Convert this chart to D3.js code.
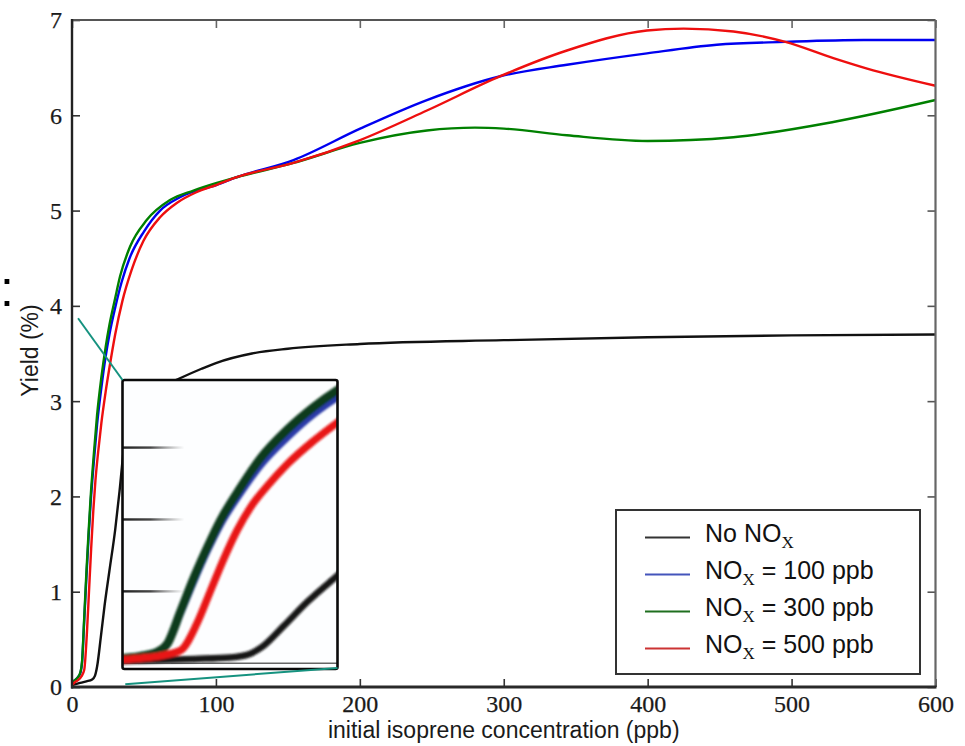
<!DOCTYPE html>
<html>
<head>
<meta charset="utf-8">
<script src="https://cdn.jsdelivr.net/npm/d3@7"></script>
<style>
  html, body { margin: 0; padding: 0; background: #fff; }
  svg { display: block; }
</style>
</head>
<body>
<svg id="chart" width="965" height="746"></svg>
<script>
// ---- data: SOA yield (%) vs initial isoprene (ppb) ----
const xTicks = [0, 100, 200, 300, 400, 500, 600];
const yTicks = [0, 1, 2, 3, 4, 5, 6, 7];
const insetYTicks = [1, 2, 3];

const noNox = [[0,0.02],[5,0.04],[10,0.06],[14,0.08],[16,0.12],[17.5,0.22],[20,0.52],[22.6,0.85],[26,1.22],[30,1.65],[33,2.05],[36,2.5],[40,2.8],[45,2.95],[50,3.03],[60,3.13],[75,3.24],[90,3.34],[100,3.40],[125,3.50],[150,3.55],[200,3.60],[300,3.64],[400,3.67],[500,3.69],[600,3.70]];
const nox100 = [[0,0.03],[2,0.07],[4,0.1],[5.9,0.15],[7,0.26],[8.5,0.7],[10,1.15],[11.5,1.57],[12.9,1.92],[15.2,2.37],[17.4,2.75],[20.4,3.14],[23.4,3.47],[26,3.7],[30,3.98],[34.5,4.25],[40,4.5],[50,4.78],[61.2,5.0],[75,5.14],[100.6,5.27],[114.5,5.35],[153.9,5.53],[200.2,5.86],[246.6,6.16],[297.6,6.41],[343.9,6.53],[399.5,6.65],[448,6.74],[495.7,6.77],[550,6.79],[600,6.79]];
const nox300 = [[0,0.03],[2,0.07],[4,0.1],[5.9,0.16],[7,0.27],[8.5,0.73],[10,1.2],[11.5,1.62],[12.9,1.98],[15.2,2.45],[17.4,2.85],[20.4,3.25],[23.4,3.57],[26,3.8],[30,4.08],[33.4,4.31],[40.3,4.62],[51.9,4.9],[68.1,5.11],[84.4,5.21],[100.6,5.29],[114.5,5.35],[153.9,5.5],[200,5.71],[246.6,5.84],[280,5.87],[300,5.86],[343.9,5.79],[400,5.73],[459.6,5.77],[529,5.93],[600,6.16]];
const nox500 = [[0,0.02],[2,0.05],[4,0.07],[6.5,0.11],[8.5,0.18],[10.3,0.55],[11.8,1.0],[13.3,1.45],[14.8,1.85],[16.3,2.17],[18.2,2.47],[20.4,2.77],[23.4,3.1],[26,3.35],[30,3.7],[35,4.05],[41.5,4.38],[49.6,4.68],[61.2,4.93],[72.8,5.08],[86,5.19],[100.6,5.27],[114.5,5.35],[153.9,5.5],[200.2,5.74],[246.6,6.05],[297.6,6.41],[343.9,6.68],[399.5,6.89],[425,6.91],[459.6,6.88],[495.7,6.77],[529,6.6],[552.5,6.49],[600,6.31]];

const seriesData = [noNox, nox100, nox300, nox500];
const legendPre  = ["No NO", "NO", "NO", "NO"];
const legendSub  = ["X", "X", "X", "X"];
const legendPost = ["", " = 100 ppb", " = 300 ppb", " = 500 ppb"];

// magnified window (data coordinates) and the two points it is linked from
const insetXDomain = [2, 26];
const insetYDomain = [-0.08, 3.94];
const zoomLinkFrom = [[4.2, 3.87], [37, 0.03]];

const xLabel = "initial isoprene concentration (ppb)";
const yLabel = "Yield (%)";

// ---- layout & style ----
const plot = { left: 72, right: 935.5, top: 20, bottom: 687 };
const insetBox = { left: 122.5, right: 337.5, top: 380, bottom: 669 };
const colors = ["#111111", "#0000f0", "#008000", "#ee0f0f"];
const insetColors = ["#141414", "#2a3aa8", "#0b3a1f", "#e81616"];
const insetWidths = [6.5, 7, 8.5, 7.5];
const legendColors = ["#333333", "#4455bb", "#1f6f1f", "#cc3333"];

const svg = d3.select("#chart");

const x = d3.scaleLinear().domain([0, 600]).range([plot.left, plot.right]);
const y = d3.scaleLinear().domain([0, 7]).range([plot.bottom, plot.top]);

const defs = svg.append("defs");
defs.append("clipPath").attr("id", "plotClip")
  .append("rect").attr("x", plot.left).attr("y", plot.top)
  .attr("width", plot.right - plot.left).attr("height", plot.bottom - plot.top);
defs.append("clipPath").attr("id", "insetClip")
  .append("rect").attr("x", insetBox.left).attr("y", insetBox.top)
  .attr("width", insetBox.right - insetBox.left).attr("height", insetBox.bottom - insetBox.top);
defs.append("filter").attr("id", "soft").attr("x", "-10%").attr("y", "-10%")
  .attr("width", "120%").attr("height", "120%")
  .append("feGaussianBlur").attr("stdDeviation", 1.1);
const grad = defs.append("linearGradient").attr("id", "tickFade")
  .attr("x1", "0%").attr("x2", "100%").attr("y1", "0%").attr("y2", "0%");
grad.append("stop").attr("offset", "0%").attr("stop-color", "#222").attr("stop-opacity", 1);
grad.append("stop").attr("offset", "45%").attr("stop-color", "#333").attr("stop-opacity", 0.9);
grad.append("stop").attr("offset", "100%").attr("stop-color", "#666").attr("stop-opacity", 0);

// ---- axes (ticks point inward on all four sides) ----
const tickFont = "'Liberation Serif', 'Times New Roman', serif";

const gBottom = svg.append("g").attr("transform", `translate(0,${plot.bottom})`)
  .call(d3.axisBottom(x).tickValues(xTicks).tickSize(-8).tickPadding(8).tickFormat(d3.format("d")));
const gLeft = svg.append("g").attr("transform", `translate(${plot.left},0)`)
  .call(d3.axisLeft(y).tickValues(yTicks).tickSize(-8).tickPadding(10).tickFormat(d3.format("d")));
const gTop = svg.append("g").attr("transform", `translate(0,${plot.top})`)
  .call(d3.axisTop(x).tickValues(xTicks).tickSize(-8).tickFormat(""));
const gRight = svg.append("g").attr("transform", `translate(${plot.right},0)`)
  .call(d3.axisRight(y).tickValues(yTicks).tickSize(-8).tickFormat(""));

[gBottom, gLeft, gTop, gRight].forEach(g => {
  g.select(".domain").remove();
  g.selectAll(".tick line").attr("stroke-width", 1.6);
  g.selectAll("text").attr("font-family", tickFont).attr("font-size", 24)
    .attr("fill", "#1a1a1a").attr("stroke", "#1a1a1a").attr("stroke-width", 0.25);
});
gBottom.selectAll(".tick line").attr("stroke", "#333");
gLeft.selectAll(".tick line").attr("stroke", "#333");
gTop.selectAll(".tick line").attr("stroke", "#666");
gRight.selectAll(".tick line").attr("stroke", "#555");
gLeft.selectAll("text").attr("dy", "0.33em");

// ---- series ----
const line = d3.line().x(d => x(d[0])).y(d => y(d[1])).curve(d3.curveMonotoneX);
const drawOrder = [0, 1, 2, 3];
const gLines = svg.append("g").attr("clip-path", "url(#plotClip)");
drawOrder.forEach(i => {
  gLines.append("path").datum(seriesData[i])
    .attr("d", line).attr("fill", "none")
    .attr("stroke", colors[i]).attr("stroke-width", 2.4)
    .attr("stroke-linejoin", "round").attr("stroke-linecap", "round");
});

// ---- frame ----
const frame = svg.append("g").attr("fill", "none");
frame.append("line").attr("x1", plot.left).attr("x2", plot.right).attr("y1", plot.top).attr("y2", plot.top)
  .attr("stroke", "#555").attr("stroke-width", 2);
frame.append("line").attr("x1", plot.right).attr("x2", plot.right).attr("y1", plot.top).attr("y2", plot.bottom)
  .attr("stroke", "#666").attr("stroke-width", 2.2);
frame.append("line").attr("x1", plot.left).attr("x2", plot.left).attr("y1", plot.top - 1).attr("y2", plot.bottom + 1.5)
  .attr("stroke", "#222").attr("stroke-width", 2.4);
frame.append("line").attr("x1", plot.left - 1).attr("x2", plot.right + 1).attr("y1", plot.bottom).attr("y2", plot.bottom)
  .attr("stroke", "#2a2a2a").attr("stroke-width", 2.8);

// ---- magnified inset ----
const xi = d3.scaleLinear().domain(insetXDomain).range([insetBox.left, insetBox.right]);
const yi = d3.scaleLinear().domain(insetYDomain).range([insetBox.bottom, insetBox.top]);
const insetLine = d3.line().x(d => xi(d[0])).y(d => yi(d[1])).curve(d3.curveMonotoneX);

const gInset = svg.append("g");
gInset.append("rect")
  .attr("x", insetBox.left).attr("y", insetBox.top)
  .attr("width", insetBox.right - insetBox.left).attr("height", insetBox.bottom - insetBox.top)
  .attr("fill", "#fdfeff");
const gInsetIn = gInset.append("g").attr("clip-path", "url(#insetClip)");
insetYTicks.forEach(t => {
  gInsetIn.append("rect")
    .attr("x", insetBox.left).attr("y", yi(t) - 1.2)
    .attr("width", 62).attr("height", 2.4)
    .attr("fill", "url(#tickFade)");
});
gInsetIn.append("line")
  .attr("x1", insetBox.left).attr("x2", insetBox.right)
  .attr("y1", yi(0)).attr("y2", yi(0))
  .attr("stroke", "#666").attr("stroke-width", 1.4);
const gInsetCurves = gInsetIn.append("g").attr("filter", "url(#soft)");
drawOrder.forEach(i => {
  gInsetCurves.append("path").datum(seriesData[i].filter(d => d[0] <= insetXDomain[1] + 6))
    .attr("d", insetLine).attr("fill", "none")
    .attr("stroke", insetColors[i]).attr("stroke-width", insetWidths[i])
    .attr("stroke-linejoin", "round").attr("stroke-linecap", "round");
});
gInset.append("rect")
  .attr("x", insetBox.left).attr("y", insetBox.top)
  .attr("width", insetBox.right - insetBox.left).attr("height", insetBox.bottom - insetBox.top)
  .attr("rx", 2).attr("fill", "none").attr("stroke", "#0a0a0a").attr("stroke-width", 2.6);

// links from the magnified window to the inset corners
const linkTo = [[insetBox.left, insetBox.top], [insetBox.right, insetBox.bottom - 1]];
zoomLinkFrom.forEach((p, i) => {
  svg.append("line")
    .attr("x1", x(p[0])).attr("y1", y(p[1]))
    .attr("x2", linkTo[i][0]).attr("y2", linkTo[i][1])
    .attr("stroke", "#15927f").attr("stroke-width", 2);
});

// ---- legend ----
const legend = { left: 616, top: 510, width: 304, height: 164 };
const gLegend = svg.append("g");
gLegend.append("rect")
  .attr("x", legend.left).attr("y", legend.top)
  .attr("width", legend.width).attr("height", legend.height)
  .attr("fill", "#fff").attr("stroke", "#333").attr("stroke-width", 2);
d3.range(seriesData.length).forEach(i => {
  const base = 541.5 + i * 37;
  gLegend.append("line")
    .attr("x1", 645).attr("x2", 690)
    .attr("y1", base - 4).attr("y2", base - 4)
    .attr("stroke", legendColors[i]).attr("stroke-width", 2.2);
  const t = gLegend.append("text")
    .attr("x", 705).attr("y", base)
    .attr("font-family", "'Liberation Sans', Arial, sans-serif")
    .attr("font-size", 25).attr("fill", "#111");
  t.append("tspan").text(legendPre[i]);
  t.append("tspan").attr("dy", 6).attr("font-size", 17)
    .attr("font-family", "'Liberation Serif', serif").text(legendSub[i]);
  t.append("tspan").attr("dy", -6).text(legendPost[i]);
});

// ---- axis titles ----
svg.append("text")
  .attr("x", (plot.left + plot.right) / 2).attr("y", 738)
  .attr("text-anchor", "middle")
  .attr("font-family", "'Liberation Sans', Arial, sans-serif")
  .attr("font-size", 23).attr("fill", "#1a1a1a")
  .text(xLabel);
svg.append("text")
  .attr("transform", `translate(38,${(plot.top + plot.bottom) / 2 - 3}) rotate(-90)`)
  .attr("text-anchor", "middle")
  .attr("font-family", "'Liberation Sans', Arial, sans-serif")
  .attr("font-size", 23).attr("fill", "#1a1a1a")
  .text(yLabel);

// colon at the left margin
svg.append("text")
  .attr("x", 0).attr("y", 306)
  .attr("font-family", "'Liberation Sans', Arial, sans-serif")
  .attr("font-size", 50).attr("fill", "#000")
  .text(":");
</script>
</body>
</html>
